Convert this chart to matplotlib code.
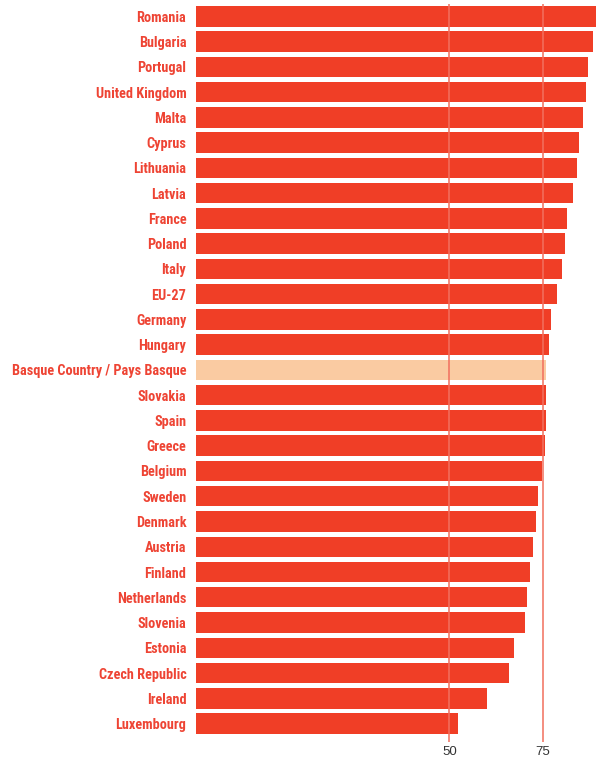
import matplotlib
matplotlib.use("Agg")
import matplotlib.pyplot as plt
from matplotlib import font_manager

countries = ["Romania", "Bulgaria", "Portugal", "United Kingdom", "Malta", "Cyprus",
             "Lithuania", "Latvia", "France", "Poland", "Italy", "EU-27", "Germany",
             "Hungary", "Basque Country / Pays Basque", "Slovakia", "Spain", "Greece",
             "Belgium", "Sweden", "Denmark", "Austria", "Finland", "Netherlands",
             "Slovenia", "Estonia", "Czech Republic", "Ireland", "Luxembourg"]
values = [89.5, 88.5, 87.1, 86.5, 85.7, 84.7, 84.2, 83.0, 81.4, 80.9, 80.1, 78.8,
          77.1, 76.6, 75.8, 75.8, 75.8, 75.5, 74.9, 73.7, 73.1, 72.3, 71.5, 70.7,
          70.2, 67.2, 65.9, 60.0, 52.2]
highlight = "Basque Country / Pays Basque"
xticks = [50, 75]
XMIN, XMAX = -17.8, 89.27

# look for a condensed/narrow bold font; otherwise use a smaller regular-width one
entries = font_manager.fontManager.ttflist
label_font, label_size = "Liberation Sans", 8.8
for cand in ["Liberation Sans Narrow", "Arial Narrow", "Roboto Condensed",
             "Open Sans Condensed"]:
    if any(f.name == cand for f in entries):
        label_font, label_size = cand, 10.3
        break

W, H = 596, 761
fig = plt.figure(figsize=(W / 100, H / 100), dpi=100)
ax = fig.add_axes([196 / W, 1 - 742 / H, 400 / W, (742 - 3.7) / H])

ys = list(range(len(countries)))
colors = ["#FACBA2" if c == highlight else "#F03E26" for c in countries]
ax.barh(ys, [v - XMIN for v in values], left=XMIN, height=0.81, color=colors, zorder=1)

for x in xticks:
    ax.axvline(x, color="#F2705E", lw=1.3, alpha=0.85, zorder=3)

ax.set_xlim(XMIN, XMAX)
ax.set_ylim(28.73, -0.5)
ax.set_xticks(xticks)
ax.set_xticklabels([str(x) for x in xticks], fontsize=9.5, color="#333333",
                   family="Liberation Sans")
ax.set_yticks(ys)
ax.set_yticklabels(countries, fontsize=label_size, color="#EE4434", fontweight="bold",
                   family=label_font)
ax.tick_params(axis="both", length=0)
ax.tick_params(axis="y", pad=7)
ax.tick_params(axis="x", pad=3)
for s in ax.spines.values():
    s.set_visible(False)

fig.savefig("out.png", dpi=100)
